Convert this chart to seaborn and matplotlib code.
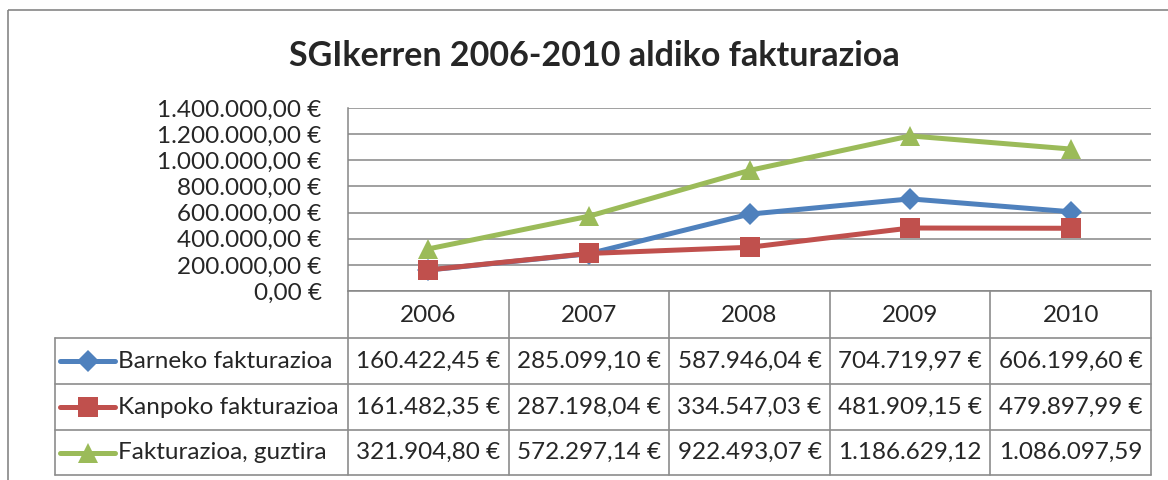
import numpy as np
import pandas as pd
import seaborn as sns
import matplotlib.pyplot as plt
from matplotlib.lines import Line2D
from matplotlib.patches import Rectangle

years = ["2006", "2007", "2008", "2009", "2010"]
series_names = ["Barneko fakturazioa", "Kanpoko fakturazioa", "Fakturazioa, guztira"]
barneko = [160422.45, 285099.10, 587946.04, 704719.97, 606199.60]
kanpoko = [161482.35, 287198.04, 334547.03, 481909.15, 479897.99]
guztira = [321904.80, 572297.14, 922493.07, 1186629.12, 1086097.59]
colors = ["#4F81BD", "#C0504D", "#9BBB59"]
markers = ["D", "s", "^"]
title = "SGIkerren 2006-2010 aldiko fakturazioa"


def euro(v, sign=True):
    s = f"{v:,.2f}".replace(",", "X").replace(".", ",").replace("X", ".")
    return s + " €" if sign else s


sns.set_style("white")
plt.rcParams["font.family"] = ["Lato", "DejaVu Sans"]
fs = 17.5
msizes = [11, 14, 15]

W, H = 1168, 480
fig = plt.figure(figsize=(W / 100, H / 100), dpi=100)

# overlay in pixel coords for frame, title and data table
ov = fig.add_axes([0, 0, 1, 1])
ov.set_xlim(0, W)
ov.set_ylim(H, 0)
ov.axis("off")
ov.add_patch(Rectangle((8, 10), 1200, 500, fill=False, ec="#868686", lw=1.2))
ov.text(594, 56, title, ha="center", va="center", fontsize=24.5, fontweight="bold")

# plot area
left, right, top, bottom = 348, 1151, 108, 291
ax = fig.add_axes([left / W, 1 - bottom / H, (right - left) / W, (bottom - top) / H])
ax.patch.set_alpha(0)

rows = []
for name, vals in zip(series_names, [barneko, kanpoko, guztira]):
    for i, v in enumerate(vals):
        rows.append({"pos": i, "value": v, "series": name})
df = pd.DataFrame(rows)

sns.lineplot(data=df, x="pos", y="value", hue="series", style="series",
             palette=dict(zip(series_names, colors)),
             markers=dict(zip(series_names, markers)), dashes=False,
             linewidth=3.6, markersize=12, markeredgewidth=0, legend=False, ax=ax)
for ln, ms in zip(ax.lines, msizes):
    ln.set_markersize(ms)

ax.set_xlim(-0.5, len(years) - 0.5)
ax.set_ylim(0, 1400000)
ax.set_yticks(np.arange(0, 1400001, 200000))
ax.set_yticklabels([euro(v) for v in np.arange(0, 1400001, 200000)], fontsize=fs)
ax.tick_params(axis="y", length=0, pad=19)
ax.set_xticks([])
ax.set_xlabel("")
ax.set_ylabel("")
ax.grid(axis="y", color="#868686", lw=1.1)
for side in ["top", "right", "bottom"]:
    ax.spines[side].set_visible(False)
ax.spines["left"].set_color("#868686")
ax.spines["left"].set_linewidth(1.1)

# data table under the plot
col_x = np.linspace(left, right, len(years) + 1)
row_y = [291, 338, 384, 430, 475]
tab_left = 55
lc = "#8c8c8c"
ov.plot([left, right], [row_y[0]] * 2, color=lc, lw=1.2)
for y in row_y[1:]:
    ov.plot([tab_left, right], [y, y], color=lc, lw=1.2)
for x in col_x:
    ov.plot([x, x], [row_y[0], row_y[-1]], color=lc, lw=1.2)
ov.plot([tab_left, tab_left], [row_y[1], row_y[-1]], color=lc, lw=1.2)

for j, yr in enumerate(years):
    ov.text((col_x[j] + col_x[j + 1]) / 2, (row_y[0] + row_y[1]) / 2 + 1, yr,
            ha="center", va="center", fontsize=fs)

for r, (name, vals, c, m, ms) in enumerate(zip(series_names, [barneko, kanpoko, guztira],
                                                colors, markers, msizes)):
    yc = (row_y[r + 1] + row_y[r + 2]) / 2
    ov.add_line(Line2D([60, 115], [yc, yc], color=c, lw=3.6, marker=None))
    ov.plot([87.5], [yc], marker=m, color=c, markersize=ms, markeredgewidth=0)
    ov.text(118, yc, name, ha="left", va="center", fontsize=fs)
    for j, v in enumerate(vals):
        ov.text((col_x[j] + col_x[j + 1]) / 2, yc, euro(v, sign=v < 1e6),
                ha="center", va="center", fontsize=fs)

fig.savefig("out.png", dpi=100)
